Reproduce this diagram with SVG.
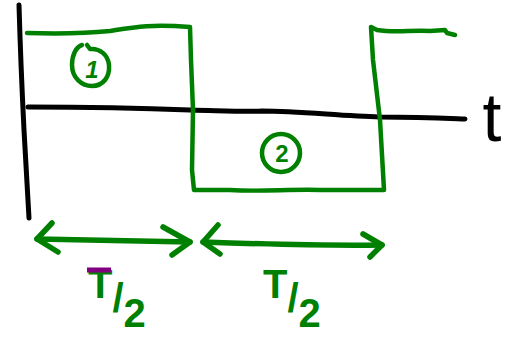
<svg xmlns="http://www.w3.org/2000/svg" width="524" height="344" viewBox="0 0 524 344">
<style>
.ax{fill:none;stroke:#000;stroke-width:5;stroke-linecap:round;stroke-linejoin:round}
.gr{fill:none;stroke:#008000;stroke-width:4.5;stroke-linecap:round;stroke-linejoin:round}
.ar{fill:none;stroke:#008000;stroke-width:5.5;stroke-linecap:round;stroke-linejoin:round}
.gt{fill:#008000;font-family:"Liberation Sans",Arial,sans-serif;font-weight:bold}
.bt{fill:#000;font-family:"Liberation Sans",Arial,sans-serif}
</style>
<rect width="524" height="344" fill="#fff"/>
<g id="axes">
<path class="ax" d="M19,5 C20,40 22,90 24,130 C26,170 28,200 29,218"/>
<path class="ax" d="M28,107 C80,107 140,108 190,110 C230,111 250,112 262,111 C300,111 340,116 380,117 C420,117 440,118 465,119"/>
<text class="bt" x="492" y="141" font-size="68" text-anchor="middle">t</text>
</g>
<g id="waveform">
<path class="gr" d="M27,33 C60,34 90,33 110,31 C135,27 150,24 190,27 L191,60 L193,110 L192,170 L194,190 L230,190 C260,192 290,189 320,190 L384,190 L380,120 L373,60 L371,27 L377,30 C395,33 410,30 430,31 L445,30 L447,33 L455,35"/>
</g>
<g id="region1">
<path class="gr" d="M82,45 C76,47 72,55 72,65 C72,78 82,86 92,86 C103,86 110,77 109,65 C108,55 100,48 90,49 L87,45"/>
<text class="gt" x="92" y="78" font-size="24" font-style="italic" text-anchor="middle">1</text>
</g>
<g id="region2">
<circle class="gr" cx="281" cy="153" r="19"/>
<text class="gt" x="282" y="162" font-size="24" text-anchor="middle">2</text>
</g>
<g id="connectors">
<path class="ar" d="M37,239 C90,240 140,241 190,242"/>
<path class="ar" d="M52,223 L37,239 L58,252"/>
<path class="ar" d="M163,227 L190,242 L172,255"/>
<path class="ar" d="M203,242 C260,244 320,246 382,245"/>
<path class="ar" d="M218,225 L203,242 L220,254"/>
<path class="ar" d="M363,234 L382,245 L370,257"/>
</g>
<g id="label1">
<text class="gt" x="88" y="298" font-size="40">T<tspan dy="14">/</tspan><tspan dy="15">2</tspan></text>
<line x1="87" y1="270" x2="111" y2="270" stroke="#800080" stroke-width="5"/>
</g>
<g id="label2">
<text class="gt" x="263" y="298" font-size="40">T<tspan dy="14">/</tspan><tspan dy="15">2</tspan></text>
</g>
</svg>
